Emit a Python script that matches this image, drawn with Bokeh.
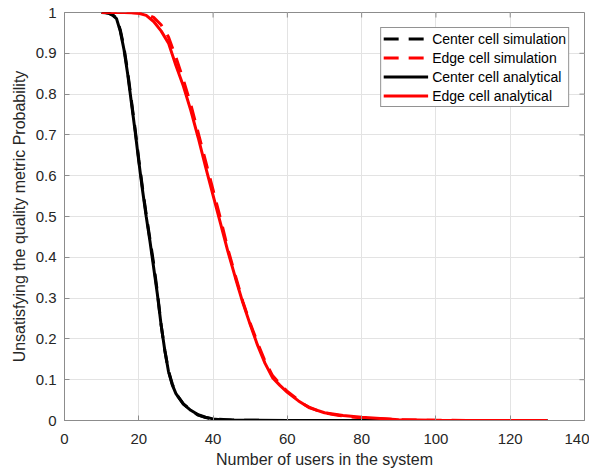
from bokeh.plotting import figure
from bokeh.models import (FixedTicker, CustomJSTickFormatter, Legend, LegendItem, Range1d)
from bokeh.embed import file_html
from bokeh.resources import INLINE

# ---- data ----
x_ticks = [0, 20, 40, 60, 80, 100, 120, 140]
y_ticks = [0, 0.1, 0.2, 0.3, 0.4, 0.5, 0.6, 0.7, 0.8, 0.9, 1.0]

center_sim_x = [10, 11, 12, 13, 14, 15, 16, 17, 18, 19, 20, 21, 22, 23, 24, 25, 26, 27, 28, 29, 30,
                32, 34, 36, 38, 40, 45, 50, 60, 70, 80, 90, 100, 110, 120, 130]
center_sim_y = [1.0, 1.0, 0.998, 0.994, 0.986, 0.958, 0.915, 0.855, 0.785, 0.715, 0.64, 0.57, 0.505,
                0.445, 0.385, 0.315, 0.235, 0.172, 0.122, 0.09, 0.066,
                0.041, 0.025, 0.013, 0.007, 0.004, 0.001, 0.0004, 0.0001, 0, 0, 0, 0, 0, 0, 0]

edge_sim_x = [10, 12, 14, 16, 18, 20, 22, 24, 26, 28, 30, 32, 34, 36, 38, 40, 42, 44, 46, 48, 50,
              52, 54, 56, 58, 60, 62, 64, 66, 68, 70, 72, 74, 76, 78, 80, 90, 100, 110, 120, 130]
edge_sim_y = [1.0, 1.0, 1.0, 1.0, 1.0, 0.999, 0.996, 0.988, 0.97, 0.94, 0.89, 0.835, 0.775, 0.705,
              0.635, 0.565, 0.495, 0.42, 0.355, 0.292, 0.238, 0.19, 0.145, 0.11, 0.09, 0.071, 0.057,
              0.042, 0.032, 0.025, 0.019, 0.015, 0.012, 0.01, 0.008, 0.007, 0.002, 0.0005, 0.0001, 0, 0]

center_an_x = [10, 11, 12, 13, 14, 15, 16, 17, 18, 19, 20, 21, 22, 23, 24, 25, 26, 27, 28, 29, 30,
               32, 34, 36, 38, 40, 42, 45, 50, 60, 70, 80, 90, 100, 110, 120, 130]
center_an_y = [1.0, 0.9995, 0.998, 0.993, 0.985, 0.955, 0.91, 0.85, 0.78, 0.71, 0.635, 0.565, 0.5,
               0.44, 0.375, 0.31, 0.235, 0.172, 0.12, 0.088, 0.066,
               0.04, 0.025, 0.014, 0.008, 0.004, 0.002, 0.001, 0.0004, 0.0001, 0, 0, 0, 0, 0, 0, 0]

edge_an_x = [10, 12, 14, 16, 18, 20, 22, 24, 26, 28, 30, 32, 34, 36, 38, 40, 42, 44, 46, 48, 50,
             52, 54, 56, 58, 60, 63, 66, 70, 75, 80, 90, 100, 110, 120, 130]
edge_an_y = [1.0, 1.0, 1.0, 1.0, 0.9995, 0.998, 0.993, 0.978, 0.955, 0.925, 0.87, 0.82, 0.76, 0.693,
             0.621, 0.552, 0.483, 0.414, 0.35, 0.289, 0.235, 0.184, 0.14, 0.105, 0.086, 0.069, 0.048,
             0.031, 0.019, 0.012, 0.0078, 0.002, 0.0006, 0.0002, 0.0001, 0]

FONT = "Liberation Sans"
TXT = "#262626"
AX = "#8c8c8c"
TICK_X = 1.35    # inward tick length in x data units (~5 px)
TICK_Y = 0.0123  # inward tick length in y data units (~5 px)

p = figure(frame_width=520, frame_height=408, output_backend="svg", toolbar_location=None,
           x_range=Range1d(0, 140), y_range=Range1d(0, 1),
           min_border_left=64, min_border_right=5, min_border_top=12, min_border_bottom=45,
           background_fill_color="white", border_fill_color="white")
p.outline_line_color = AX
p.outline_line_width = 1

p.grid.grid_line_color = "#e3e3e3"
p.grid.grid_line_width = 1
p.xgrid.ticker = FixedTicker(ticks=x_ticks)
p.ygrid.ticker = FixedTicker(ticks=y_ticks)

# box ticks on top and right (inward)
p.segment(x0=x_ticks, y0=[1.0] * len(x_ticks), x1=x_ticks, y1=[1.0 - TICK_Y] * len(x_ticks),
          line_color=AX, line_width=1)
p.segment(x0=[140] * len(y_ticks), y0=y_ticks, x1=[140 - TICK_X] * len(y_ticks), y1=y_ticks,
          line_color=AX, line_width=1)

sim_dash = "15 10"
r1 = p.line(center_sim_x, center_sim_y, line_color="black", line_width=3, line_dash=sim_dash)
r2 = p.line(edge_sim_x, edge_sim_y, line_color="red", line_width=3, line_dash=sim_dash)
r3 = p.line(center_an_x, center_an_y, line_color="black", line_width=3)
r4 = p.line(edge_an_x, edge_an_y, line_color="red", line_width=3)

fmt = CustomJSTickFormatter(code="return String(Math.round(tick*10)/10);")

xa = p.xaxis[0]
ya = p.yaxis[0]
xa.ticker = FixedTicker(ticks=x_ticks)
ya.ticker = FixedTicker(ticks=y_ticks)
ya.formatter = fmt
for ax in (xa, ya):
    ax.major_tick_in = 5
    ax.major_tick_out = 0
    ax.minor_tick_line_color = None
    ax.axis_line_color = AX
    ax.major_tick_line_color = AX
    ax.major_label_text_font = FONT
    ax.major_label_text_font_size = "15px"
    ax.major_label_text_color = TXT
    ax.axis_label_text_font = FONT
    ax.axis_label_text_font_size = "16px"
    ax.axis_label_text_font_style = "normal"
    ax.axis_label_text_color = TXT
xa.axis_label = "Number of users in the system"
ya.axis_label = "Unsatisfying the quality metric Probability"
xa.major_label_standoff = 13
xa.axis_label_standoff = 4
ya.major_label_standoff = 8
ya.axis_label_standoff = 5

legend = Legend(items=[
    LegendItem(label="Center cell simulation", renderers=[r1]),
    LegendItem(label="Edge cell simulation", renderers=[r2]),
    LegendItem(label="Center cell analytical", renderers=[r3]),
    LegendItem(label="Edge cell analytical", renderers=[r4]),
], location="top_right")
legend.margin = 15
legend.padding = 2
legend.spacing = 2
legend.glyph_width = 45
legend.glyph_height = 17
legend.label_standoff = 4
legend.label_text_font = FONT
legend.label_text_font_size = "14px"
legend.label_text_color = "black"
legend.label_height = 17
legend.border_line_color = "#262626"
legend.border_line_width = 1
legend.background_fill_alpha = 1
p.add_layout(legend, "center")

open("out.html", "w").write(file_html(p, INLINE))
